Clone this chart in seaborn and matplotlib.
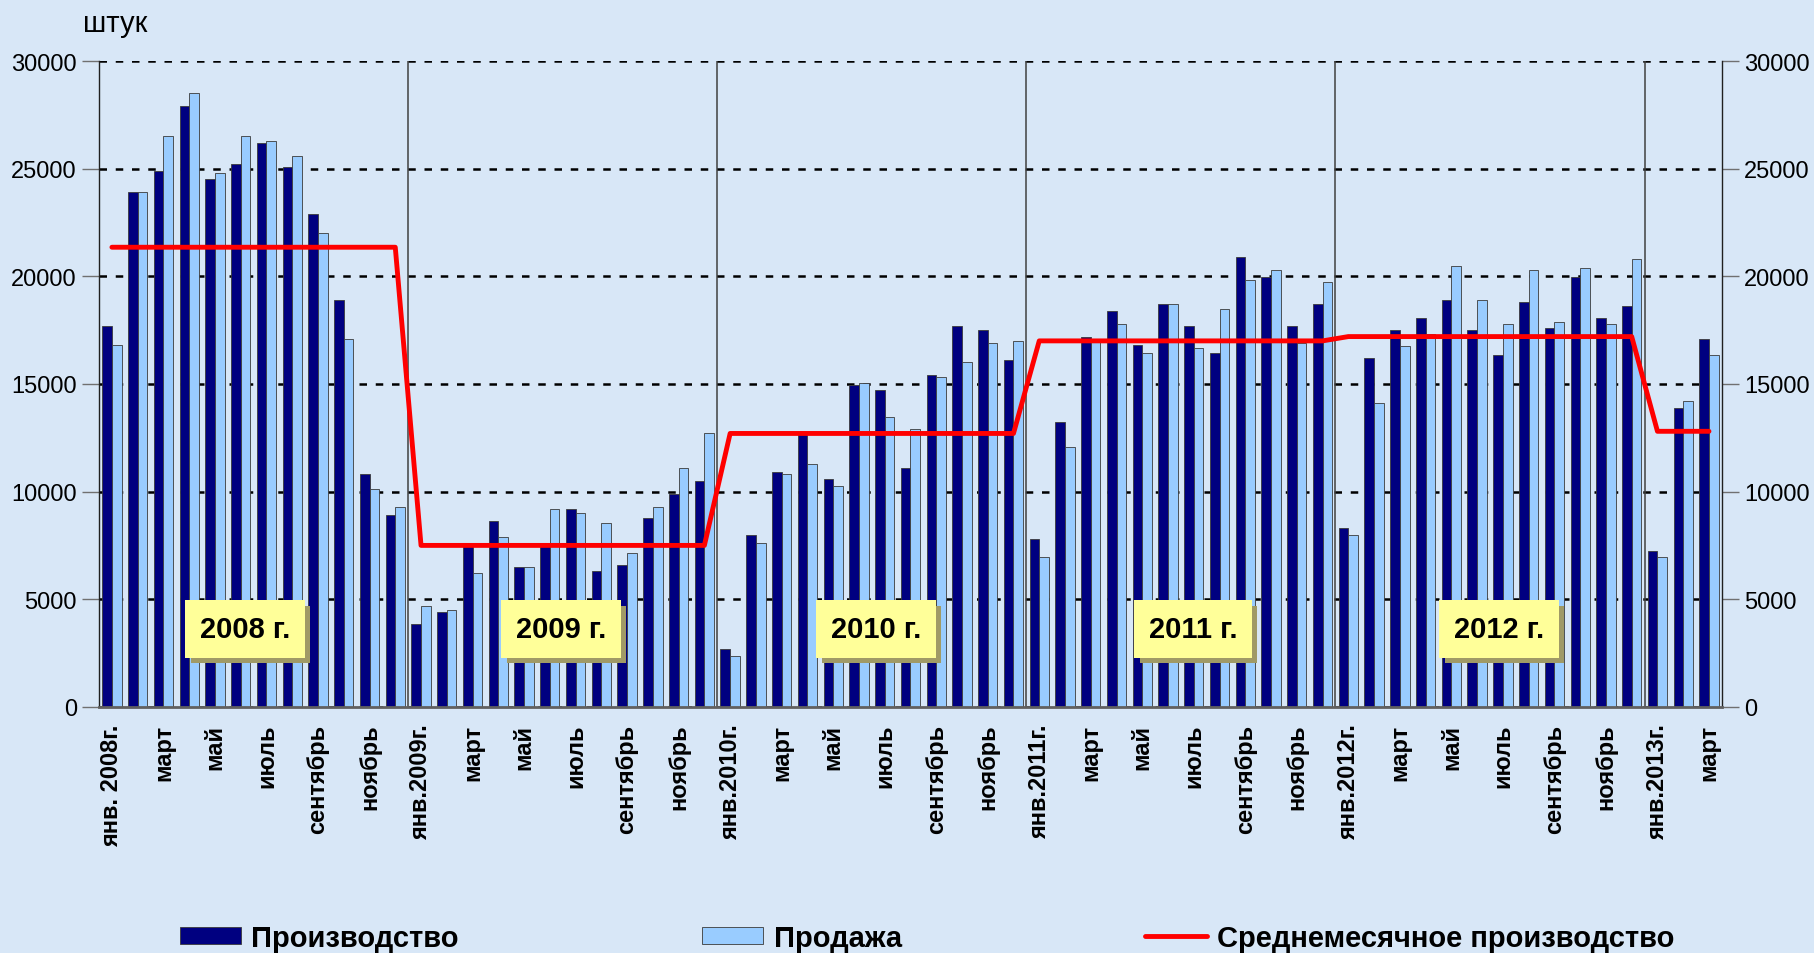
import pandas as pd
import matplotlib.pyplot as plt
import matplotlib.patheffects as pe
from matplotlib.lines import Line2D
import seaborn as sns

# monthly data, Jan 2008 - Mar 2013 (штук)
prod_2008 = [17700, 23900, 24900, 27900, 24500, 25200, 26200, 25100, 22900, 18900, 10800, 8900]
sales_2008 = [16800, 23900, 26500, 28500, 24800, 26500, 26300, 25600, 22000, 17100, 10100, 9300]
prod_2009 = [3850, 4400, 7600, 8650, 6500, 7600, 9200, 6300, 6600, 8750, 9900, 10500]
sales_2009 = [4700, 4500, 6200, 7900, 6500, 9200, 9000, 8550, 7150, 9300, 11100, 12700]
prod_2010 = [2700, 8000, 10900, 12750, 10600, 14950, 14700, 11100, 15400, 17700, 17500, 16100]
sales_2010 = [2350, 7600, 10800, 11300, 10250, 15050, 13450, 12900, 15300, 16000, 16900, 17000]
prod_2011 = [7800, 13250, 17200, 18400, 16800, 18700, 17700, 16450, 20900, 19950, 17700, 18700]
sales_2011 = [6950, 12050, 17000, 17800, 16450, 18700, 16650, 18500, 19850, 20300, 16900, 19750]
prod_2012 = [8300, 16200, 17500, 18050, 18900, 17500, 16350, 18800, 17600, 19950, 18050, 18600]
sales_2012 = [8000, 14100, 16750, 17300, 20500, 18900, 17800, 20300, 17900, 20400, 17800, 20800]
prod_2013 = [7250, 13900, 17100]
sales_2013 = [6950, 14200, 16350]

# average monthly production per year
year_avg = [21350, 7500, 12700, 17000, 17200, 12800]
months_in_year = [12, 12, 12, 12, 12, 3]
year_labels = ["2008 г.", "2009 г.", "2010 г.", "2011 г.", "2012 г."]

tick_labels = ["янв. 2008г.", "март", "май", "июль", "сентябрь", "ноябрь",
               "янв.2009г.", "март", "май", "июль", "сентябрь", "ноябрь",
               "янв.2010г.", "март", "май", "июль", "сентябрь", "ноябрь",
               "янв.2011г.", "март", "май", "июль", "сентябрь", "ноябрь",
               "янв.2012г.", "март", "май", "июль", "сентябрь", "ноябрь",
               "янв.2013г.", "март"]

production = prod_2008 + prod_2009 + prod_2010 + prod_2011 + prod_2012 + prod_2013
sales = sales_2008 + sales_2009 + sales_2010 + sales_2011 + sales_2012 + sales_2013
n = len(production)
avg_line = [a for a, m in zip(year_avg, months_in_year) for _ in range(m)]

df = pd.DataFrame({
    "month": list(range(n)) * 2,
    "value": production + sales,
    "series": ["Производство"] * n + ["Продажа"] * n,
})

bg = "#d8e7f7"
sns.set_style("white")
plt.rcParams['font.family'] = ['Liberation Sans', 'DejaVu Sans']
plt.rcParams['text.color'] = 'black'
plt.rcParams['xtick.color'] = 'black'
plt.rcParams['ytick.color'] = 'black'

fig = plt.figure(figsize=(18.14, 9.54), dpi=100, facecolor=bg)
ax = fig.add_axes([0.0546, 0.258, 0.8946, 0.677])
ax.set_facecolor(bg)

sns.barplot(data=df, x="month", y="value", hue="series", ax=ax,
            palette={"Производство": "#000080", "Продажа": "#99ccff"},
            width=0.75, edgecolor="#3a3a3a", linewidth=0.6, saturation=1,
            errorbar=None, legend=True)
handles, labels = ax.get_legend_handles_labels()
ax.legend_.remove()

line, = ax.plot(range(n), avg_line, color="#ff0000", lw=3.5, zorder=5)

# year separators
for x in [11.5, 23.5, 35.5, 47.5, 59.5]:
    ax.axvline(x, color="#404040", lw=1.1, zorder=1)

ax.set_xlim(-0.5, n - 0.5)
ax.set_ylim(0, 30000)
ax.set_yticks(range(0, 30001, 5000))
ax.yaxis.grid(True, color="black", lw=1.8, linestyle=(0, (3, 3.5)))
ax.set_axisbelow(True)
ax.tick_params(axis="y", which="both", left=True, right=True, labelright=True,
               length=12, width=1, color="#707070", labelsize=17, pad=4,
               labelcolor="black", direction="out")
ax.set_xticks(range(0, n, 2))
ax.set_xticklabels(tick_labels, rotation=90, fontsize=17, fontweight="bold",
                   va="top", ha="center", color="black")
ax.tick_params(axis="x", length=0, pad=12)
ax.set_xlabel("")
ax.set_ylabel("")

for side in ["left", "right"]:
    ax.spines[side].set_color("#202020")
    ax.spines[side].set_linewidth(1)
ax.spines["top"].set_visible(False)
ax.spines["bottom"].set_color("#606060")
ax.spines["bottom"].set_linewidth(2)

fig.text(0.046, 0.99, "штук", fontsize=21, va="top", ha="left", color="black")

# yearly labels in yellow boxes with a drop shadow
label_x = [5.17, 17.44, 29.66, 41.97, 53.85]
for lx, txt in zip(label_x, year_labels):
    t = ax.text(lx, 3620, txt, fontsize=21, fontweight="bold", ha="center",
                va="center", color="black", zorder=7,
                bbox=dict(boxstyle="square,pad=0.5", fc="#ffff99", ec="none"))
    t.get_bbox_patch().set_path_effects([
        pe.SimplePatchShadow(offset=(4, -4), shadow_rgbFace="#a09a66", alpha=1),
        pe.Normal()])

red_handle = Line2D([0], [0], color="#ff0000", lw=3.5)
leg = fig.legend(handles + [red_handle], labels + ["Среднемесячное производство"],
                 loc="center", bbox_to_anchor=(0.511, 0.016), ncol=3,
                 frameon=False, prop={"weight": "bold", "size": 21},
                 handlelength=2.1, handleheight=0.55, handletextpad=0.35,
                 columnspacing=8.35, borderaxespad=0)
for t in leg.get_texts():
    t.set_color("black")

fig.savefig("out.png", dpi=100, facecolor=bg)
